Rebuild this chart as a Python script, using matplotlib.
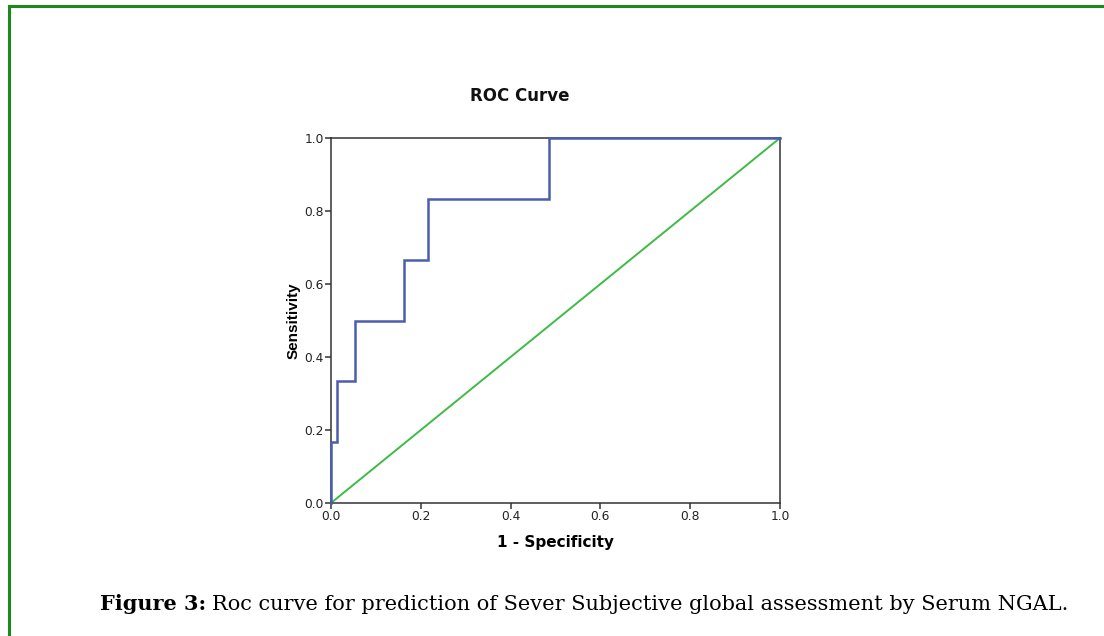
import matplotlib
matplotlib.use("Agg")
import matplotlib.pyplot as plt
from matplotlib.lines import Line2D

# Data
fpr = [0.0, 0.0, 0.0135, 0.0135, 0.054, 0.054, 0.162, 0.162, 0.216, 0.216, 0.486, 0.486, 1.0]
tpr = [0.0, 1/6, 1/6, 2/6, 2/6, 3/6, 3/6, 4/6, 4/6, 5/6, 5/6, 1.0, 1.0]
ref_x = [0.0, 1.0]
ref_y = [0.0, 1.0]
ticks = [0.0, 0.2, 0.4, 0.6, 0.8, 1.0]
tick_labels = ["0.0", "0.2", "0.4", "0.6", "0.8", "1.0"]
caption_bold = "Figure 3:"
caption_text = "Roc curve for prediction of Sever Subjective global assessment by Serum NGAL."

W, H = 1104, 636
fig = plt.figure(figsize=(W/100, H/100), dpi=100)

# axes placement in pixels
x0, x1 = 331, 780
y0, y1 = 138, 503
ax = fig.add_axes([x0/W, 1 - y1/H, (x1-x0)/W, (y1-y0)/H])

ax.plot(fpr, tpr, color="#4a5db0", lw=1.8, solid_joinstyle="miter", clip_on=False, zorder=3)
ax.plot(ref_x, ref_y, color="#3dbb47", lw=1.4, clip_on=False, zorder=2)

ax.set_xlim(0, 1)
ax.set_ylim(0, 1)
ax.set_xticks(ticks)
ax.set_xticklabels(tick_labels)
ax.set_yticks(ticks)
ax.set_yticklabels(tick_labels)
for s in ax.spines.values():
    s.set_color("#333333")
    s.set_linewidth(1.1)
ax.tick_params(direction="out", length=4, width=1.1, color="#333333",
               labelsize=8.8, labelcolor="#222222", pad=1)
for lab in ax.get_xticklabels() + ax.get_yticklabels():
    lab.set_family("DejaVu Sans")

ax.set_xlabel("1 - Specificity", fontsize=11, fontweight="bold", family="DejaVu Sans", labelpad=9)
ax.set_ylabel("Sensitivity", fontsize=11, fontweight="bold", family="Liberation Sans", labelpad=3)

fig.text(520/W, 1 - 96/H, "ROC Curve", ha="center", va="center", fontsize=12,
         fontweight="bold", family="DejaVu Sans", color="#111111")

# caption: fit between x=100 and x=1072
cap_y = 1 - 604/H
fs = 15
t1 = fig.text(100/W, cap_y, caption_bold, ha="left", va="center", fontsize=fs,
              fontweight="bold", family="DejaVu Serif", color="black")
t2 = fig.text(0, cap_y, caption_text, ha="left", va="center", fontsize=fs,
              family="DejaVu Serif", color="black")
r = fig.canvas.get_renderer()
w1 = t1.get_window_extent(r).width
w2 = t2.get_window_extent(r).width
gap = 0.3 * fs * 100 / 72
scale = (1072 - 100) / (w1 + w2 + gap)
fs2 = fs * scale
t1.set_fontsize(fs2)
t2.set_fontsize(fs2)
w1 = t1.get_window_extent(r).width
t2.set_x((100 + w1 + 0.3 * fs2 * 100 / 72) / W)

# green border (top and left)
fig.add_artist(Line2D([9/W, 9/W], [0, 1 - 6/H], transform=fig.transFigure, color="#1a8a1a", lw=2.2))
fig.add_artist(Line2D([9/W, 1], [1 - 6/H, 1 - 6/H], transform=fig.transFigure, color="#1a8a1a", lw=2.2))

fig.savefig("out.png", dpi=100)
